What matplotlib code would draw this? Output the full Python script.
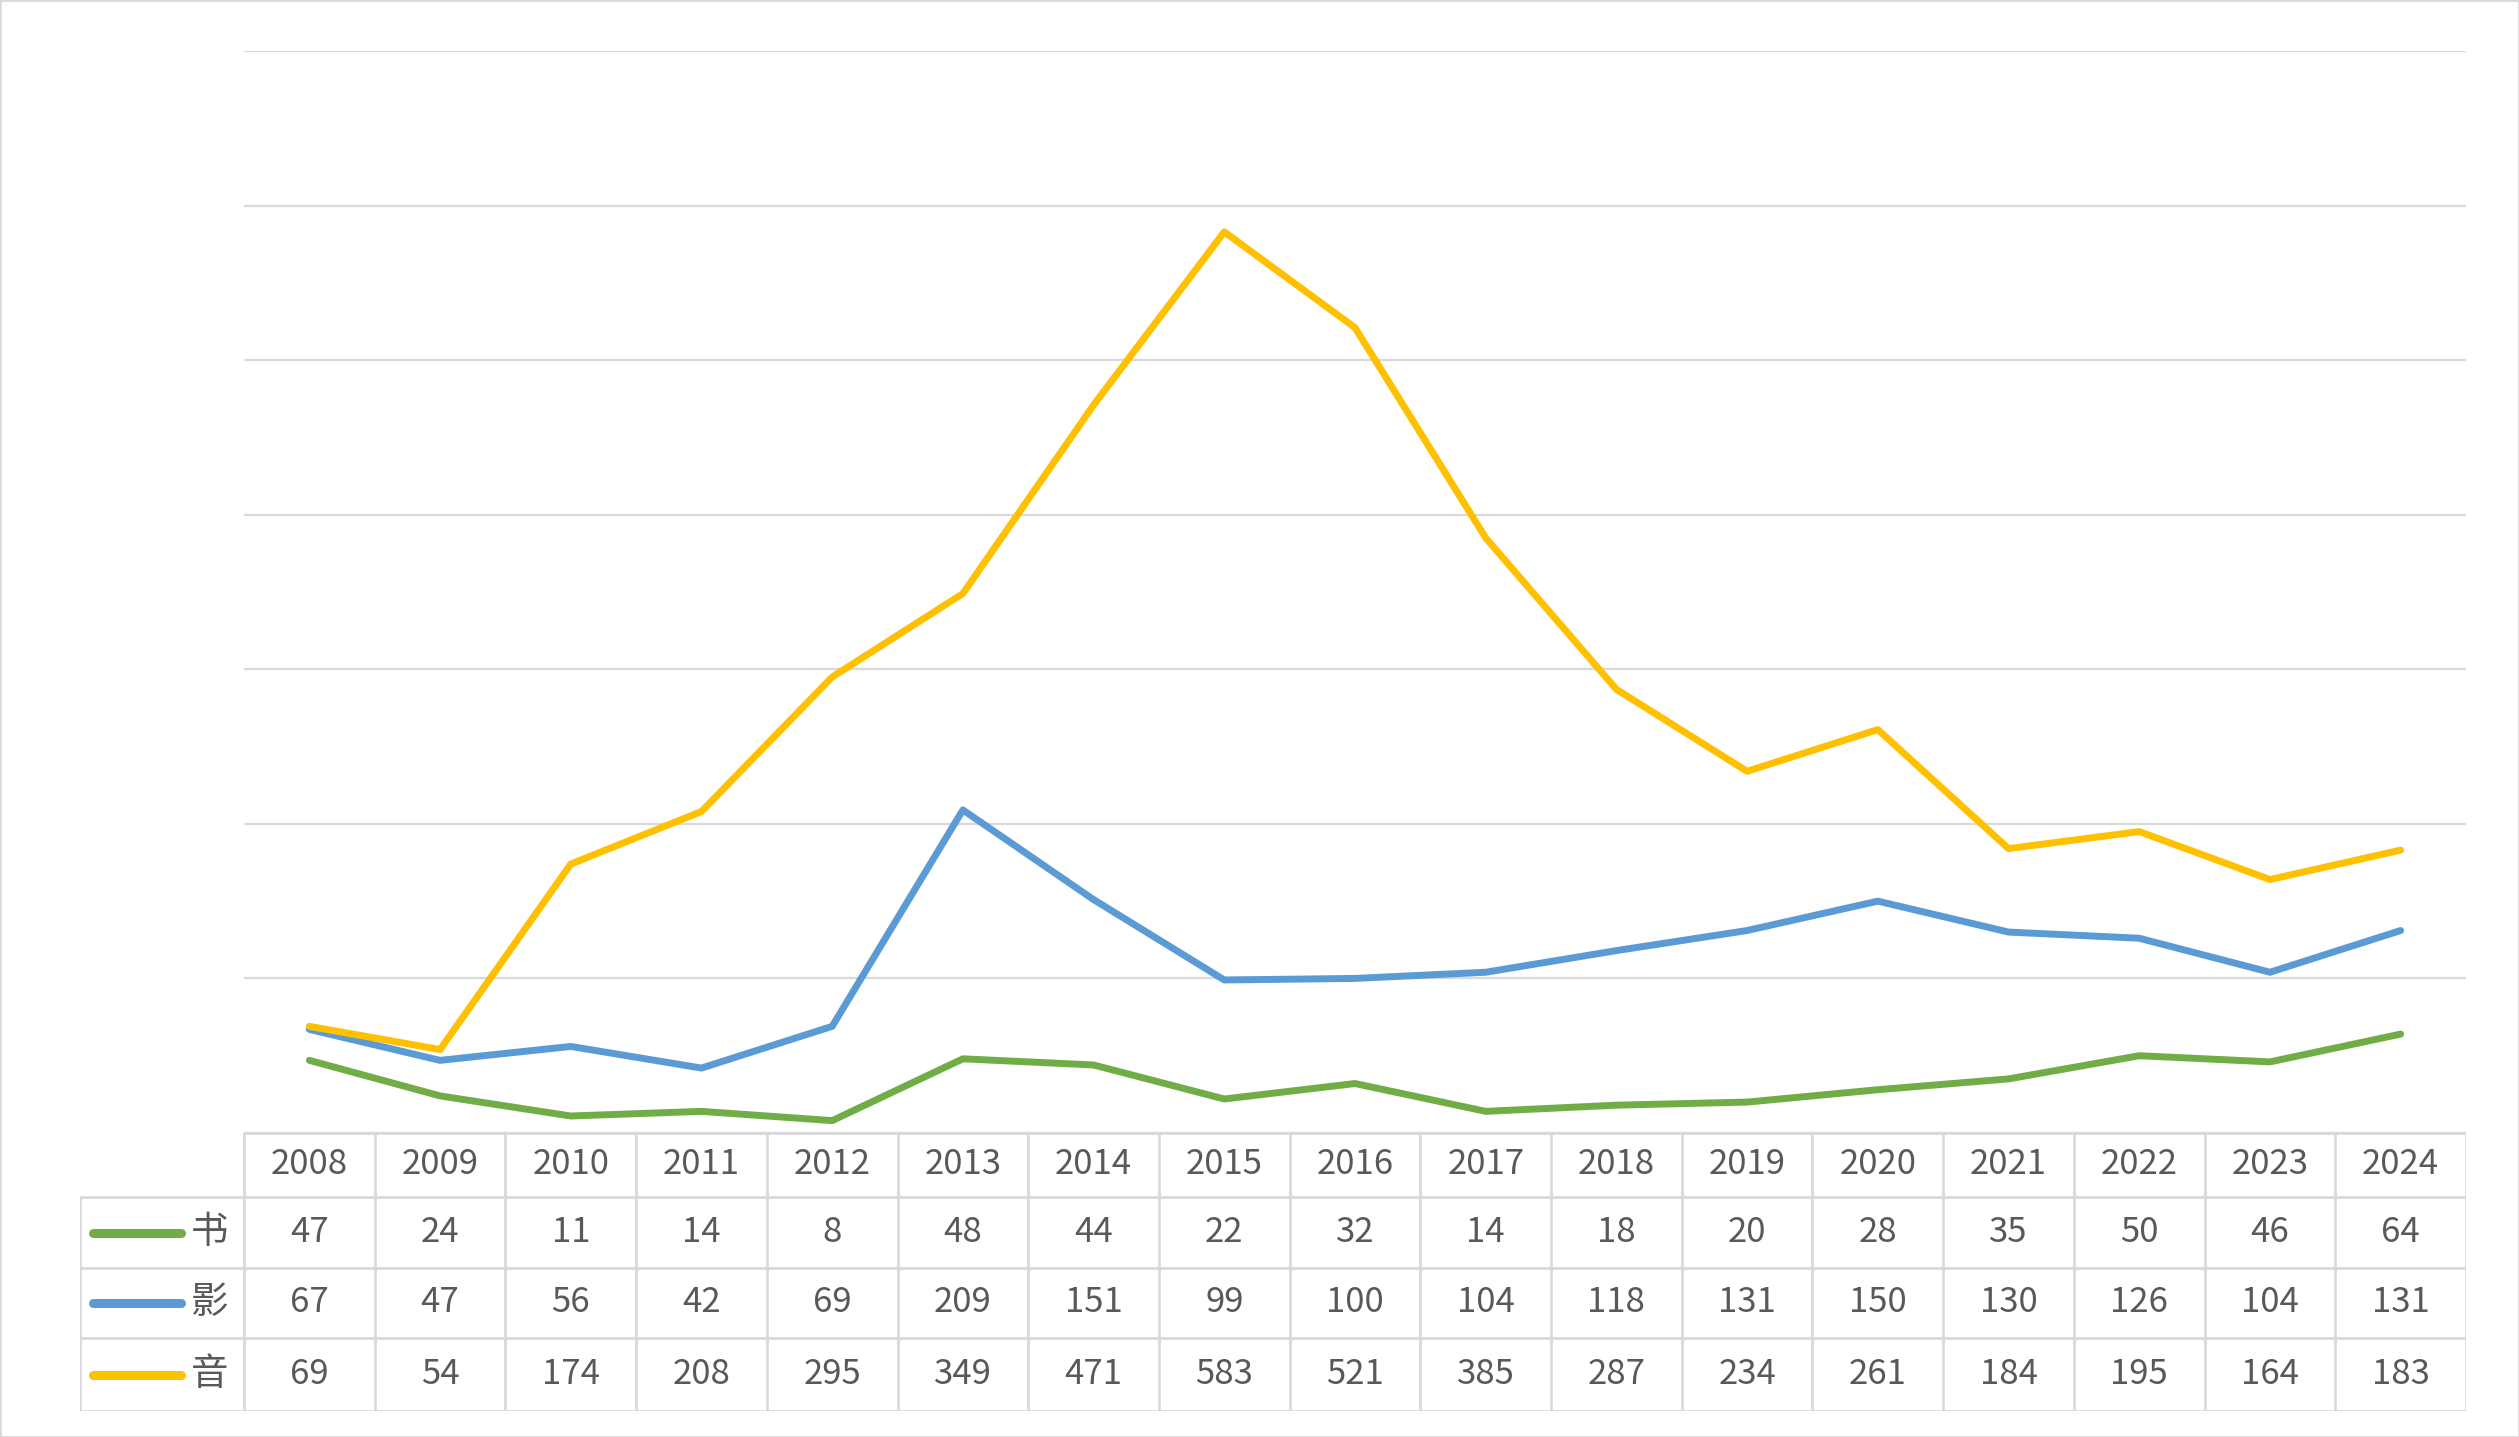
import matplotlib
matplotlib.use("Agg")
import matplotlib.pyplot as plt
from matplotlib.patches import Rectangle

plt.rcParams['font.family'] = ['Noto Sans CJK SC', 'DejaVu Sans']

years = [2008, 2009, 2010, 2011, 2012, 2013, 2014, 2015, 2016, 2017,
         2018, 2019, 2020, 2021, 2022, 2023, 2024]
names = ['书', '影', '音']
book = [47, 24, 11, 14, 8, 48, 44, 22, 32, 14, 18, 20, 28, 35, 50, 46, 64]
film = [67, 47, 56, 42, 69, 209, 151, 99, 100, 104, 118, 131, 150, 130, 126, 104, 131]
music = [69, 54, 174, 208, 295, 349, 471, 583, 521, 385, 287, 234, 261, 184, 195, 164, 183]
colors = ['#70AD47', '#5B9BD5', '#FFC000']
series = [book, film, music]

W, H = 2519, 1437
fig = plt.figure(figsize=(W / 100, H / 100), dpi=100)
fig.patches.append(Rectangle((0, 0), 1, 1, transform=fig.transFigure,
                             fill=False, edgecolor='#D9D9D9', linewidth=2))

# plot area
left, right, top, bottom = 244, 2466, 51, 1133
ax = fig.add_axes([left / W, (H - bottom) / H, (right - left) / W, (bottom - top) / H])
n = len(years)
xs = list(range(n))
for vals, c in zip(series, colors):
    ax.plot(xs, vals, color=c, linewidth=5, solid_capstyle='round', solid_joinstyle='round')
ax.set_xlim(-0.5, n - 0.5)
ax.set_ylim(0, 700)
ax.set_yticks(range(0, 701, 100))
ax.yaxis.grid(True, color='#D9D9D9', linewidth=1.6)
ax.set_axisbelow(True)
ax.tick_params(left=False, bottom=False, labelleft=False, labelbottom=False)
for s in ax.spines.values():
    s.set_visible(False)

# data table
leg_left = 80
tb_top, tb_bottom = 1133, 1411
colw = (right - left) / n
leg_w = (left - leg_left) / colw
tax = fig.add_axes([leg_left / W, (H - tb_bottom) / H, (right - leg_left) / W, (tb_bottom - tb_top) / H])
tax.set_xlim(-0.5 - leg_w, n - 0.5)
tax.set_ylim(tb_bottom - tb_top, 0)
tax.axis('off')
row_edges = [0, 64, 135, 205, 278]
lc = '#D9D9D9'
lw = 2
txt = '#595959'
tax.plot([-0.5, n - 0.5], [0, 0], color=lc, lw=lw)
for y in row_edges[1:]:
    tax.plot([-0.5 - leg_w, n - 0.5], [y, y], color=lc, lw=lw)
for i in range(n + 1):
    tax.plot([i - 0.5, i - 0.5], [0, row_edges[-1]], color=lc, lw=lw)
tax.plot([-0.5 - leg_w] * 2, [row_edges[1], row_edges[-1]], color=lc, lw=lw)

for i, yr in enumerate(years):
    tax.text(i, (row_edges[0] + row_edges[1]) / 2, str(yr), ha='center', va='center',
             fontsize=25, color=txt)
for r, (vals, c, nm) in enumerate(zip(series, colors, names)):
    yc = (row_edges[r + 1] + row_edges[r + 2]) / 2
    for i, v in enumerate(vals):
        tax.text(i, yc, str(v), ha='center', va='center', fontsize=25, color=txt)
    x0 = -0.5 - leg_w + 13 / colw
    x1 = -0.5 - leg_w + 101 / colw
    tax.plot([x0, x1], [yc, yc], color=c, lw=6.5, solid_capstyle='round')
    tax.text(-0.5 - leg_w + 111 / colw, yc, nm, ha='left', va='center', fontsize=27, color=txt)

fig.savefig('out.png', dpi=100)
